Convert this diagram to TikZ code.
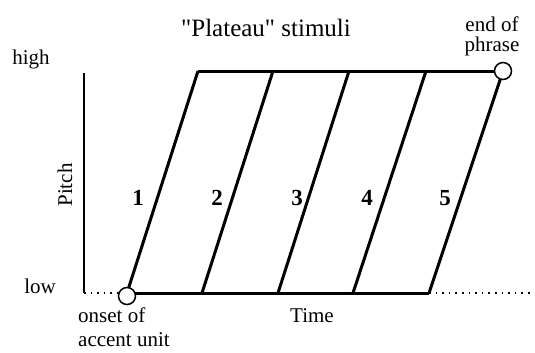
\documentclass[tikz,border=0pt]{standalone}
\usepackage{fontspec}
\setmainfont{Liberation Serif}
\newfontfamily\plainserif{Liberation Serif}
\usetikzlibrary{positioning}

\begin{document}
\begin{tikzpicture}[
  x=1pt, y=-1pt,
  lbl/.style={font=\fontsize{21}{24}\selectfont, inner sep=0pt},
  num/.style={font=\fontsize{23}{23}\selectfont\bfseries, inner sep=0pt},
  dot/.style={draw, circle, fill=white, line width=1.5pt,
              minimum size=17pt, inner sep=0pt},
  rise/.style={line width=3pt},
  axis/.style={line width=1.5pt},
  dots/.style={line width=1.6pt, dash pattern=on 1.6pt off 5pt},
]
\useasboundingbox (0,0) rectangle (535,353);

%% ─── Axis and baseline ───────────────────────────────────────────────────────
\coordinate (ytop) at (84,73);
\coordinate (orig) at (84,293);
\coordinate (far)  at (535,293);
\draw[axis] (ytop) -- (orig);

%% ─── Corners of the five rises ───────────────────────────────────────────────
\coordinate (b1) at (127,293);
\coordinate (b2) at (202,293);
\coordinate (b3) at (278,293);
\coordinate (b4) at (353,293);
\coordinate (b5) at (429,293);
\coordinate (t1) at (198,71);
\coordinate (t2) at (273,71);
\coordinate (t3) at (349,71);
\coordinate (t4) at (426,71);
\coordinate (t5) at (503,71);

\draw[dots] (orig) -- (b1);
\draw[dots] (b5) -- (far);
\draw[rise] (b1) -- (b5);
\draw[rise] (t1) -- (t5);
\foreach \i in {1,...,5}
  \draw[rise] (b\i) -- (t\i);

\node[dot] (onset) at (127,296) {};
\node[dot] (end)   at (t5) {};

%% ─── Numbers ─────────────────────────────────────────────────────────────────
\node[num] (n1) at (138,198) {1};
\node[num] (n2) at (217,198) {2};
\node[num] (n3) at (297,198) {3};
\node[num] (n4) at (367,198) {4};
\node[num] (n5) at (445,198) {5};

%% ─── Labels ──────────────────────────────────────────────────────────────────
\node[lbl, font=\fontsize{25}{25}\selectfont\plainserif, anchor=base]
  (title) at (266,37) {"Plateau" stimuli};
\node[lbl, anchor=base] (high) at (31,64)  {high};
\node[lbl, anchor=base] (low)  at (40,293) {low};
\node[lbl, anchor=base, rotate=90] (pitch) at (72,185) {Pitch};
\node[lbl, anchor=base] (time) at (312,322) {Time};
\node[lbl, anchor=north west, align=left] (onlbl) at (78,308)
  {onset of\\accent unit};
\node[lbl, font=\fontsize{21}{20}\selectfont, anchor=north, align=center]
  (endlbl) at (492,17) {end of\\phrase};

\end{tikzpicture}
\end{document}
